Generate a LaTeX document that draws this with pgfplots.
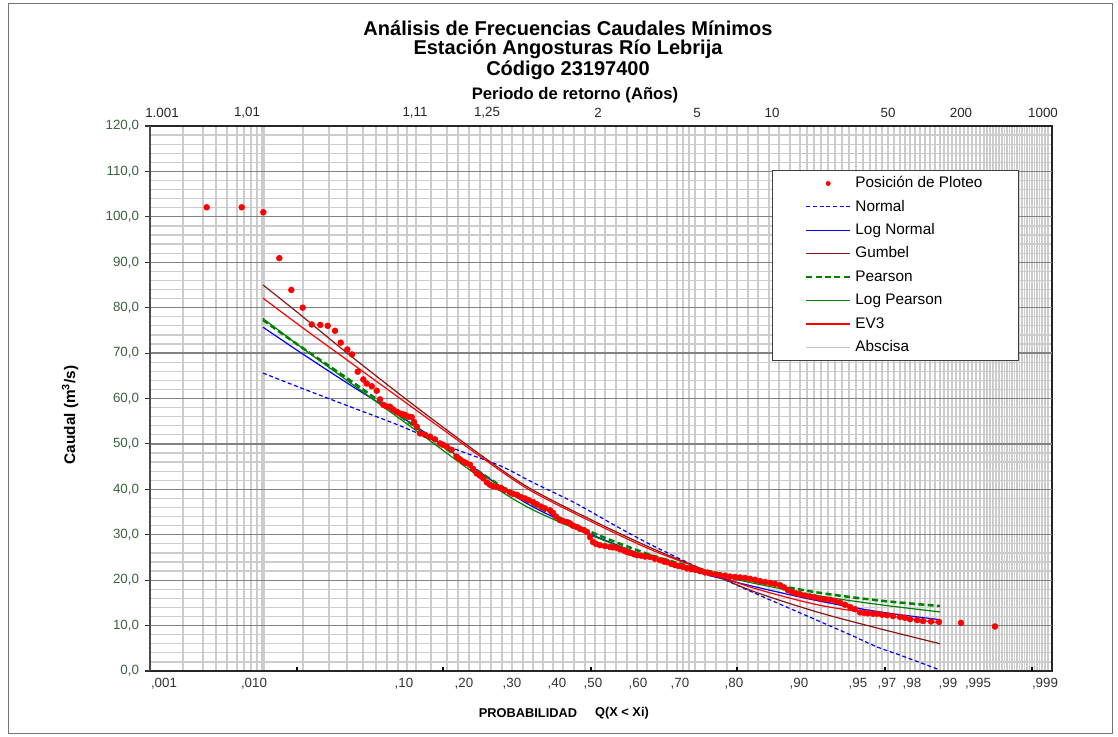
\documentclass[border=0pt]{standalone}
\usepackage{pgfplots}
\pgfplotsset{compat=1.18}
\usepackage{fontspec}
\setmainfont{Liberation Sans}
\definecolor{tickgreen}{RGB}{60,100,60}
\definecolor{gumbel}{RGB}{140,20,20}
\definecolor{pgreen}{RGB}{0,128,0}
\definecolor{gridl}{RGB}{204,204,204}
\definecolor{gridd}{RGB}{130,130,130}
\begin{document}
\begin{tikzpicture}
\useasboundingbox (0,0) rectangle (838.5pt,-552.75pt);
\fill[white] (0,0) rectangle (838.5pt,-552.75pt);
\begin{axis}[
  at={(112.5pt,-503.25pt)}, anchor=south west,
  scale only axis, width=676.5pt, height=408.75pt,
  xmin=150, xmax=1052, ymin=0, ymax=120,
  xtick={183,203,216,227,237,244,251,257,262,264,303,329,347,363,376,387,398,407,416,431,447,458,469,480,491,502,512,523,533,543,553,563,574,585,595,605,616,627,637,647,657,667,677,683,689,695,705,716,727,737,748,758,769,779,790,800,807,814,821,828,835,842,849,856,863,870,876,882,888,894,900,905,910,915,920,925,930,935,940,944,948,952,956,960,964,968,972,976,980,984,987,990,993,996,999,1002,1004.5,1007,1009.5,1012,1014.5,1017,1019.5,1022,1024.5,1027,1029.5,1032,1034.5,1037,1039.5,1042,1045,1048},
  xticklabels={}, xtick style={draw=none},
  xmajorgrids=true,
  ytick={0,10,...,120}, minor y tick num=4,
  ymajorgrids=false, yminorgrids=true,
  major grid style={gridl, line width=1.1pt},
  minor grid style={gridl, line width=0.9pt},
  extra y ticks={10,20,...,110},
  extra y tick labels={},
  extra y tick style={grid=major, major grid style={gridd, line width=0.9pt}},
  ytick align=outside, ytick pos=left, major tick length=3.75pt, minor tick length=0pt,
  y tick style={black!80, line width=0.8pt},
  /pgf/number format/assume math mode=true,
  yticklabel style={font=\fontsize{10}{12}\selectfont, text=tickgreen, xshift=-1pt,
    /pgf/number format/fixed, /pgf/number format/fixed zerofill,
    /pgf/number format/precision=1, /pgf/number format/use comma},
  axis line style={black!85, line width=1.3pt},
  legend cell align=left,
  legend style={at={(rel axis cs:0.68958,0.91927)}, anchor=north west,
    draw=black!75, fill=white, font=\fontsize{11.5}{13}\selectfont,
    inner xsep=24.5pt, inner ysep=2pt, row sep=1.77pt,
    nodes={text height=9pt, text depth=2.8pt, inner sep=2pt},
    /tikz/every odd column/.append style={column sep=1pt}},
  legend image code/.code={\draw[#1] (0pt,0pt) -- (33pt,0pt);},
]
% Normal
\addplot[blue, densely dashed, line width=0.9pt, smooth, forget plot] coordinates {
(263,65.6) (300,62.4) (350,58.2) (400,54.0) (450,49.3) (500,45.2) (533,41.5) (575,37.0) (617,31.8) (650,27.9) (700,22.6) (750,17.6) (800,12.8) (850,8.0) (877,5.3) (900,3.5) (939,0.3)};
% Log Normal
\addplot[blue, line width=0.9pt, smooth, forget plot] coordinates {
(263,75.7) (300,70.2) (350,63.0) (417,53.7) (483,43.3) (530,36.5) (592,30.0) (650,25.0) (700,21.6) (750,18.8) (817,15.5) (880,13.0) (940,11.3)};
% Gumbel
\addplot[gumbel, line width=0.9pt, smooth, forget plot] coordinates {
(263,85.0) (300,78.5) (350,69.5) (417,58.0) (483,47.2) (530,40.2) (592,33.2) (650,27.2) (700,22.6) (750,17.8) (817,13.0) (880,9.3) (940,6.0)};
% Pearson
\addplot[pgreen, line width=1.9pt, dash pattern=on 4.5pt off 2.5pt, smooth, forget plot] coordinates {
(263,77.3) (300,71.5) (350,64.0) (417,53.5) (483,43.3) (530,37.0) (592,30.5) (650,25.6) (700,22.5) (750,20.0) (817,17.3) (880,15.5) (940,14.3)};
% Log Pearson
\addplot[pgreen, line width=0.9pt, smooth, forget plot] coordinates {
(263,77.6) (300,71.5) (350,63.5) (417,52.8) (483,42.2) (530,35.8) (592,29.8) (650,25.0) (700,22.0) (750,19.5) (817,16.6) (880,14.6) (940,13.0)};
% EV3
\addplot[red, line width=0.9pt, smooth, forget plot] coordinates {
(263,82.1) (300,76.0) (350,68.0) (417,57.3) (483,46.8) (530,39.8) (592,32.8) (650,26.8) (700,22.6) (750,18.5) (817,14.6) (880,12.4) (940,10.6)};
% Posicion de ploteo
\addplot[only marks, mark=*, mark size=2.2pt, red, mark options={draw=red, fill=red}, forget plot] table {
x y
206.7 102.1
241.7 102.1
263.3 101.0
279.3 90.9
291.3 83.9
302.7 80.0
311.7 76.3
320.3 76.2
327.7 76.0
335 74.9
340.7 72.3
347.3 70.8
352 69.7
357.7 65.9
363.3 64.2
366.7 63.3
371.7 62.7
376.7 61.7
380 59.8
383.3 58.6
386 58.3
390 58.2
393 57.6
396.7 57.1
400 56.7
403 56.5
405 56.4
408.3 56.0
411.7 55.9
414 54.8
416.7 53.8
420 52.3
425 52.0
430 51.6
435 51.0
440 50.1
443 49.8
446.7 49.4
451.7 48.7
456.7 47.2
460 46.6
463.3 46.1
466 45.8
470 45.4
473 44.5
476.7 43.5
480 43.0
483.3 42.4
487 41.5
490 41.0
493 40.7
497 40.5
500 40.3
505 39.8
510 39.3
513 39.0
517 38.8
521 38.3
525 38.0
529 37.6
533 37.2
537 36.7
541 36.2
545 35.8
550 35.4
553 34.8
556 34.0
560 33.2
563 33.0
567 32.8
570 32.5
573 32.0
577 31.7
580 31.3
584 31.0
587 30.6
590 29.5
593 28.4
596 28.0
600 27.7
605 27.5
610 27.3
613 27.2
617 27.1
620 26.8
624 26.5
627 26.2
630 26.0
634 25.7
637 25.5
641 25.4
645 25.2
650 25.1
655 24.7
660 24.4
664 24.1
667 24.0
671 23.6
675 23.3
679 23.1
683 22.9
687 22.6
691 22.4
695 22.3
700 22.0
705 21.7
710 21.5
715 21.3
720 21.1
725 21.0
730 20.8
735 20.7
740 20.6
745 20.5
750 20.3
755 20.1
760 19.8
765 19.6
770 19.4
775 19.2
780 18.9
784 18.4
788 17.8
792 17.4
796 17.1
800 16.9
805 16.6
810 16.4
815 16.2
820 15.9
825 15.8
830 15.7
835 15.4
840 15.1
845 14.6
850 14.1
855 13.6
860 12.9
864 12.8
868 12.7
873 12.6
877 12.6
882 12.4
887 12.3
893 12.1
900 11.9
905 11.7
910 11.4
917 11.2
923 11.0
931 10.9
939 10.8
961 10.6
995 9.8
};
% x tick marks
\pgfplotsinvokeforeach{297,443,591,737,885,1032}{
  \draw[black, line width=0.8pt] (axis cs:#1,0) ++(0pt,-3pt) -- ++(0pt,6pt);
}
\addlegendimage{legend image code/.code={\fill[red] (16.5pt,0pt) circle (1.6pt);}}
\addlegendentry{Posición de Ploteo}
\addlegendimage{blue, densely dashed, line width=0.8pt}
\addlegendentry{Normal}
\addlegendimage{blue, line width=1pt}
\addlegendentry{Log Normal}
\addlegendimage{gumbel, line width=1pt}
\addlegendentry{Gumbel}
\addlegendimage{pgreen, line width=1.9pt, dash pattern=on 4.5pt off 2.5pt}
\addlegendentry{Pearson}
\addlegendimage{pgreen, line width=1pt}
\addlegendentry{Log Pearson}
\addlegendimage{red, line width=1pt}
\addlegendentry{EV3}
\addlegendimage{gray!45, line width=1.2pt}
\addlegendentry{Abscisa}
\end{axis}
\begin{scope}[x=0.75pt, y=-0.75pt]
\draw[black!55, line width=0.75pt] (8,4) rectangle (1112,733);
\draw[black!70, line width=2pt] (150,126) -- (150,671);
\node[font=\bfseries\fontsize{15}{17}\selectfont] at (568,28) {Análisis de Frecuencias Caudales Mínimos};
\node[font=\bfseries\fontsize{15}{17}\selectfont] at (568,49) {Estación Angosturas Río Lebrija};
\node[font=\bfseries\fontsize{15}{17}\selectfont] at (568,70) {Código 23197400};
\node[font=\bfseries\fontsize{12.5}{14}\selectfont] at (575,95) {Periodo de retorno (Años)};
\foreach \xx/\lab in {162/1.001, 247/{1,01}, 415/{1,11}, 487/{1,25}, 598/2, 697/5, 772/10, 888/50, 961/200, 1043/1000}{
  \node[font=\fontsize{10}{12}\selectfont, text=black!85] at (\xx,113) {\lab};
}
\foreach \xx/\lab in {164/{,001}, 254/{,010}, 404/{,10}, 464/{,20}, 512/{,30}, 557/{,40}, 593/{,50}, 638/{,60}, 680/{,70}, 734/{,80}, 799/{,90}, 858/{,95}, 887/{,97}, 912/{,98}, 948/{,99}, 978/{,995}, 1045/{,999}}{
  \node[font=\fontsize{10}{12}\selectfont, text=black!80] at (\xx,684) {\lab};
}
\node[font=\bfseries\fontsize{9.6}{11}\selectfont] at (528,713) {PROBABILIDAD};
\node[font=\bfseries\fontsize{9.6}{11}\selectfont] at (622,713) {Q(X < Xi)};
\node[font=\bfseries\fontsize{11.5}{13}\selectfont, rotate=90] at (70,415) {Caudal (m\textsuperscript{3}/s)};
\end{scope}
\end{tikzpicture}
\end{document}
